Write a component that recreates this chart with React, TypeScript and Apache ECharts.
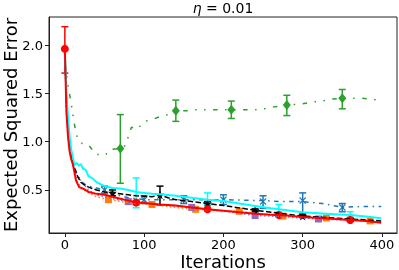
import React, { useEffect, useRef } from "react";
import * as echarts from "echarts";

// ---- data ----
const RED_X = [0, 2, 4, 6, 8, 10, 14, 18, 24, 30, 40, 50, 60, 70, 80, 90, 100, 120, 140, 160, 180, 200, 220, 240, 260, 280, 300, 320, 340, 360, 380, 399];
const RED_Y = [1.96, 1.3, 1.05, 0.9, 0.82, 0.77, 0.6, 0.53, 0.51, 0.48, 0.46, 0.45, 0.43, 0.41, 0.39, 0.37, 0.365, 0.35, 0.34, 0.32, 0.3, 0.285, 0.27, 0.255, 0.245, 0.235, 0.22, 0.21, 0.2, 0.19, 0.178, 0.162];
const RED_MK_X = [0, 90, 180, 270, 360];
const RED_MK_Y = [1.96, 0.37, 0.3, 0.24, 0.19];
const RED_LO = [1.71, 0.35, 0.285, 0.225, 0.178];
const RED_HI = [2.19, 0.39, 0.315, 0.255, 0.202];

const CYAN_X = [0, 2, 4, 6, 8, 10, 12, 15, 18, 20, 23, 26, 30, 35, 40, 45, 50, 55, 60, 70, 80, 90, 100, 110, 120, 140, 160, 180, 200, 220, 240, 260, 280, 300, 320, 340, 360, 380, 399];
const CYAN_Y = [1.95, 1.5, 1.25, 1.05, 0.92, 0.84, 0.76, 0.78, 0.75, 0.77, 0.72, 0.71, 0.64, 0.62, 0.58, 0.56, 0.54, 0.53, 0.52, 0.515, 0.5, 0.48, 0.47, 0.46, 0.455, 0.44, 0.42, 0.4, 0.385, 0.36, 0.335, 0.31, 0.29, 0.27, 0.26, 0.25, 0.24, 0.225, 0.207];
const CYAN_MK_X = [90, 180, 270, 360];
const CYAN_LO = [0.316, 0.345, 0.275, 0.21];
const CYAN_HI = [0.625, 0.47, 0.35, 0.275];

const BLACK_X = [0, 2, 4, 6, 8, 10, 15, 20, 25, 30, 40, 50, 60, 70, 80, 90, 100, 110, 120, 130, 140, 160, 180, 200, 220, 240, 260, 280, 300, 320, 340, 360, 380, 399];
const BLACK_Y = [1.95, 1.4, 1.12, 0.95, 0.85, 0.78, 0.66, 0.58, 0.55, 0.53, 0.5, 0.48, 0.47, 0.46, 0.45, 0.44, 0.435, 0.43, 0.45, 0.42, 0.4, 0.38, 0.36, 0.34, 0.315, 0.29, 0.27, 0.25, 0.23, 0.22, 0.21, 0.2, 0.19, 0.18];
const BLACK_MK_X = [60, 120, 180, 240, 300, 360];
const BLACK_MK_Y = [0.47, 0.45, 0.36, 0.29, 0.23, 0.2];
const BLACK_LO = [0.44, 0.345, 0.34, 0.275, 0.215, 0.185];
const BLACK_HI = [0.5, 0.54, 0.38, 0.305, 0.245, 0.215];

const BLUE_X = [0, 2, 4, 6, 8, 10, 15, 20, 25, 30, 40, 50, 60, 70, 80, 90, 100, 125, 150, 175, 200, 225, 250, 275, 300, 325, 350, 375, 399];
const BLUE_Y = [1.95, 1.4, 1.1, 0.95, 0.85, 0.79, 0.67, 0.6, 0.56, 0.54, 0.52, 0.5, 0.47, 0.44, 0.42, 0.41, 0.4, 0.4, 0.4, 0.4, 0.4, 0.395, 0.39, 0.38, 0.38, 0.36, 0.32, 0.33, 0.33];
const BLUE_MK_X = [50, 100, 150, 200, 250, 300, 350];
const BLUE_MK_Y = [0.5, 0.4, 0.4, 0.4, 0.38, 0.39, 0.32];
const BLUE_LO = [0.46, 0.36, 0.36, 0.35, 0.31, 0.26, 0.275];
const BLUE_HI = [0.54, 0.44, 0.44, 0.45, 0.44, 0.47, 0.36];

const ORANGE_X = [0, 2, 4, 6, 8, 10, 15, 20, 30, 40, 55, 80, 110, 140, 165, 190, 220, 250, 275, 300, 330, 360, 385, 399];
const ORANGE_Y = [1.95, 1.32, 1.06, 0.9, 0.82, 0.76, 0.6, 0.53, 0.47, 0.43, 0.4, 0.37, 0.35, 0.32, 0.3, 0.29, 0.28, 0.25, 0.23, 0.22, 0.21, 0.195, 0.18, 0.17];
const ORANGE_MK_X = [55, 110, 165, 220, 275, 330, 385];
const ORANGE_MK_Y = [0.4, 0.35, 0.3, 0.28, 0.23, 0.21, 0.18];

const PURPLE_X = [0, 2, 4, 6, 8, 10, 15, 20, 25, 30, 40, 50, 60, 80, 100, 120, 140, 160, 180, 200, 220, 240, 260, 280, 300, 320, 340, 360, 380, 399];
const PURPLE_Y = [1.95, 1.35, 1.08, 0.92, 0.84, 0.78, 0.64, 0.6, 0.55, 0.5, 0.45, 0.43, 0.41, 0.38, 0.36, 0.35, 0.33, 0.32, 0.3, 0.28, 0.26, 0.235, 0.23, 0.22, 0.21, 0.2, 0.195, 0.19, 0.18, 0.17];
const PURPLE_MK_X = [80, 160, 240, 320];
const PURPLE_MK_Y = [0.38, 0.32, 0.235, 0.2];

const GREEN_X = [0, 3, 5, 8, 11, 13, 16, 22, 30, 39, 51, 57, 70, 76, 80, 84, 91, 101, 111, 120, 130, 140, 157, 163, 178, 191, 210, 228, 240, 252, 264, 280, 299, 312, 324, 337, 350, 362, 373, 385, 397];
const GREEN_Y = [1.8, 1.64, 1.53, 1.4, 1.23, 1.14, 1.03, 0.98, 0.965, 0.87, 0.86, 0.92, 0.93, 0.96, 1.05, 1.15, 1.13, 1.21, 1.23, 1.26, 1.28, 1.32, 1.32, 1.33, 1.33, 1.33, 1.33, 1.33, 1.33, 1.34, 1.36, 1.38, 1.39, 1.41, 1.42, 1.44, 1.45, 1.45, 1.45, 1.44, 1.43];
const GREEN_MK_X = [70, 140, 210, 280, 350];
const GREEN_MK_Y = [0.93, 1.32, 1.33, 1.38, 1.45];
const GREEN_LO = [0.57, 1.21, 1.24, 1.27, 1.34];
const GREEN_HI = [1.28, 1.43, 1.42, 1.48, 1.54];

const X_TICKS = [0, 100, 200, 300, 400];
const Y_TICKS = [0.5, 1.0, 1.5, 2.0];

const X_NAME = "Iterations";
const Y_NAME = "Expected Squared Error";

// ---- helpers ----
const zip = (xs: number[], ys: number[]) => xs.map((x, i) => [x, ys[i]]);
const zip3 = (xs: number[], a: number[], b: number[]) => xs.map((x, i) => [x, a[i], b[i]]);

const FONT = "DejaVu Sans";
const STAR = "path://M50,0 L61,35 L98,35 L68,57 L79,91 L50,70 L21,91 L32,57 L2,35 L39,35 Z";
const XMARK = "path://M0,1.2 L1.2,0 L5,3.8 L8.8,0 L10,1.2 L6.2,5 L10,8.8 L8.8,10 L5,6.2 L1.2,10 L0,8.8 L3.8,5 Z";

function lineSeries(name: string, xs: number[], ys: number[], color: string, width: number, type: any) {
  return {
    name,
    type: "line",
    data: zip(xs, ys),
    showSymbol: false,
    symbol: "none",
    lineStyle: { color, width, type, cap: "butt" },
    silent: true,
  };
}

function errSeries(xs: number[], lo: number[], hi: number[], color: string) {
  return {
    type: "custom",
    data: zip3(xs, lo, hi),
    encode: { x: 0, y: [1, 2] },
    silent: true,
    renderItem: (_p: any, api: any) => {
      const x = api.value(0);
      const a = api.coord([x, api.value(2)]);
      const b = api.coord([x, api.value(1)]);
      const w = 3.5;
      const st = { stroke: color, lineWidth: 1.5 };
      return {
        type: "group",
        children: [
          { type: "line", shape: { x1: a[0], y1: a[1], x2: b[0], y2: b[1] }, style: st },
          { type: "line", shape: { x1: a[0] - w, y1: a[1], x2: a[0] + w, y2: a[1] }, style: st },
          { type: "line", shape: { x1: b[0] - w, y1: b[1], x2: b[0] + w, y2: b[1] }, style: st },
        ],
      };
    },
  };
}

function markSeries(xs: number[], ys: number[], color: string, symbol: string, size: any) {
  return {
    type: "scatter",
    data: zip(xs, ys),
    symbol,
    symbolSize: size,
    itemStyle: { color, opacity: 1 },
    silent: true,
  };
}

export default function App() {
  const ref = useRef<HTMLDivElement>(null);
  useEffect(() => {
    document.body.style.margin = "0";
    const chart = echarts.init(ref.current!, undefined, { renderer: "svg" });
    const green = "#2ca02c";
    const blue = "#1f77b4";
    const orange = "#ff7f0e";
    const purple = "#9467bd";
    chart.setOption({
      animation: false,
      title: {
        text: "{i|η} = 0.01",
        left: 223,
        top: 1,
        padding: 0,
        textAlign: "center",
        textStyle: {
          fontFamily: FONT,
          fontSize: 14,
          fontWeight: "normal",
          color: "#000",
          rich: { i: { fontFamily: FONT, fontStyle: "italic", fontSize: 14, color: "#000" } },
        },
      },
      grid: {
        left: 49, right: 2, top: 17, bottom: 37,
        containLabel: false, outerBoundsMode: "none",
        show: true, borderColor: "#222", borderWidth: 1, backgroundColor: "transparent",
      },
      xAxis: {
        type: "value",
        min: -20,
        max: 419,
        name: X_NAME,
        nameLocation: "middle",
        nameGap: 21,
        nameMoveOverlap: false,
        nameTextStyle: { fontFamily: FONT, fontSize: 18, lineHeight: 14, color: "#000" },
        axisLine: { show: true, onZero: false, lineStyle: { color: "#222", width: 1 } },
        axisTick: { show: true, length: 4, lineStyle: { color: "#222" }, customValues: X_TICKS },
        axisLabel: { fontFamily: FONT, fontSize: 13, lineHeight: 13, color: "#000", margin: 5, customValues: X_TICKS, formatter: (v: number) => String(v) },
        splitLine: { show: false },
      },
      yAxis: {
        type: "value",
        min: 0.055,
        max: 2.29,
        name: Y_NAME,
        nameLocation: "middle",
        nameGap: 30,
        nameRotate: 90,
        nameMoveOverlap: false,
        nameTextStyle: { fontFamily: FONT, fontSize: 18, color: "#000" },
        axisLine: { show: true, onZero: false, lineStyle: { color: "#222", width: 1 } },
        axisTick: { show: true, length: 4, lineStyle: { color: "#222" }, customValues: Y_TICKS },
        axisLabel: { fontFamily: FONT, fontSize: 13, color: "#000", margin: 6, customValues: Y_TICKS, formatter: (v: number) => v.toFixed(1) },
        splitLine: { show: false },
      },
      series: [
        lineSeries("green", GREEN_X, GREEN_Y, green, 1.5, [4.5, 7.5, 1.5, 7.5, 1.5, 7.5]),
        errSeries(GREEN_MK_X, GREEN_LO, GREEN_HI, green),
        markSeries(GREEN_MK_X, GREEN_MK_Y, green, "diamond", [8, 10]),
        lineSeries("blue", BLUE_X, BLUE_Y, blue, 1.5, [4.5, 4.5, 1.5, 4.5]),
        errSeries(BLUE_MK_X, BLUE_LO, BLUE_HI, blue),
        markSeries(BLUE_MK_X, BLUE_MK_Y, blue, XMARK, 7),
        lineSeries("orange", ORANGE_X, ORANGE_Y, orange, 1.5, [1.5, 2.5]),
        markSeries(ORANGE_MK_X, ORANGE_MK_Y, orange, "rect", 7),
        lineSeries("purple", PURPLE_X, PURPLE_Y, purple, 1.5, [1.5, 2.5]),
        markSeries(PURPLE_MK_X, PURPLE_MK_Y, purple, "rect", 7),
        lineSeries("black", BLACK_X, BLACK_Y, "#000", 1.5, [5.5, 2.4]),
        errSeries(BLACK_MK_X, BLACK_LO, BLACK_HI, "#000"),
        markSeries(BLACK_MK_X, BLACK_MK_Y, "#000", STAR, 9),
        lineSeries("cyan", CYAN_X, CYAN_Y, "#00ffff", 2, "solid"),
        errSeries(CYAN_MK_X, CYAN_LO, CYAN_HI, "#00ffff"),
        lineSeries("red", RED_X, RED_Y, "#ff0000", 2, "solid"),
        errSeries(RED_MK_X, RED_LO, RED_HI, "#ff0000"),
        markSeries(RED_MK_X, RED_MK_Y, "#ff0000", "circle", 8),
      ],
    });
    return () => chart.dispose();
  }, []);
  return <div ref={ref} style={{ width: 399, height: 270, position: "fixed", left: 0, top: 0 }} />;
}
